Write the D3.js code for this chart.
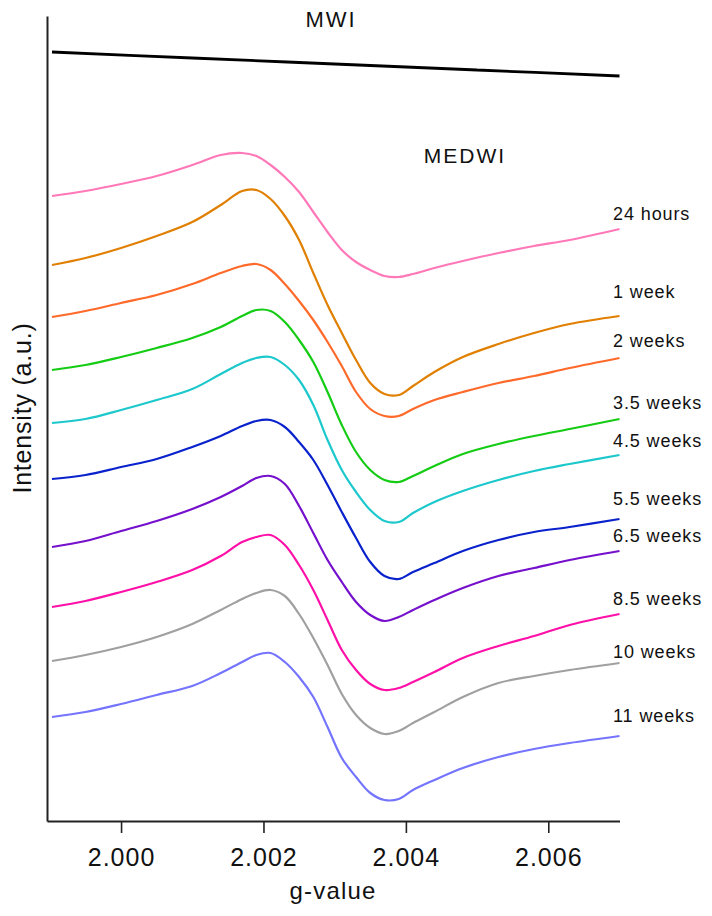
<!DOCTYPE html>
<html>
<head>
<meta charset="utf-8">
<script src="https://cdn.jsdelivr.net/npm/d3@7"></script>
<style>
  html, body { margin: 0; padding: 0; background: #fff; }
  svg { display: block; }
  text { font-family: "Liberation Sans", Arial, Helvetica, sans-serif; fill: #111; }
</style>
</head>
<body>
<svg id="chart" width="712" height="916"></svg>
<script>
// ---- data (intensity in arbitrary units) ----
const gValues = [1.99903, 1.9995, 2.0000, 2.0005, 2.0010, 2.0014, 2.0017, 2.0019, 2.0021, 2.0023, 2.0025, 2.0027, 2.0029,
                 2.0031, 2.0033, 2.0035, 2.0037, 2.0039, 2.0041, 2.0044, 2.0048, 2.0053, 2.0058, 2.0063, 2.0070];

const seriesNames = ["24 hours", "1 week", "2 weeks", "3.5 weeks", "4.5 weeks", "5.5 weeks",
                     "6.5 weeks", "8.5 weeks", "10 weeks", "11 weeks"];

const s24h   = [625,630,637,645,656,666,668,665,656,644,629,609,589,571,559,551,545,544,547,553,560,568,575,581,592];
const s1w    = [556,563,573,585,599,616,630,631,622,605,581,548,516,488,461,438,427,426,435,449,464,477,488,497,505];
const s2w    = [504,510,518,526,537,548,555,557,551,537,520,501,479,455,429,412,405,405,412,421,429,438,445,453,463];
const s3_5w  = [451,456,464,473,483,494,505,511,510,499,481,459,429,396,369,351,341,339,345,355,367,377,385,392,402];
const s4_5w  = [398,402,411,421,432,447,458,463,464,456,441,416,381,351,329,311,300,299,308,319,330,341,350,357,366];
const s5_5w  = [342,346,354,362,374,385,395,400,401,394,379,361,336,309,283,259,245,242,249,258,270,281,289,294,302];
const s6_5w  = [274,280,290,300,312,324,335,343,345,337,315,288,261,239,219,206,200,204,211,221,233,245,253,261,270];
const s8_5w  = [214,220,229,239,251,265,279,284,286,276,256,231,201,171,151,137,131,133,139,149,163,175,185,196,207];
const s10w   = [160,166,174,184,197,211,222,228,231,225,207,183,156,127,106, 93, 87, 90, 98,109,124,138,145,151,158];
const s11w   = [104,109,117,126,135,148,159,166,168,159,144,124, 94, 63, 44, 28, 21, 22, 31, 41, 53, 64, 72, 78, 85];

const mwiG = [1.99903, 2.0010, 2.0030, 2.0050, 2.0070];
const mwiValues = [769, 763, 757, 751, 745];

// label anchor intensity (where each series label sits)
const labelLevels = [601, 523, 474, 412, 374, 316, 279, 216, 163, 99];

const seriesColors = ["#ff78b8", "#e07f00", "#ff6a2a", "#13cc13", "#1cc8cc", "#0a22cc",
                      "#7510cc", "#ff10a8", "#a0a0a0", "#7474ff"];

const xTicks = [2.000, 2.002, 2.004, 2.006];

// ---- layout ----
const svg = d3.select("#chart");
const x = d3.scaleLinear().domain([1.99896, 2.00700]).range([47, 619.5]);
const y = d3.scaleLinear().domain([0, 805]).range([821, 16]);

const allSeries = [s24h, s1w, s2w, s3_5w, s4_5w, s5_5w, s6_5w, s8_5w, s10w, s11w];

const line = d3.line()
  .x(d => x(d[0]))
  .y(d => y(d[1]))
  .curve(d3.curveCatmullRom.alpha(0.5));

// axes
const xAxis = d3.axisBottom(x).tickValues(xTicks).tickFormat(d3.format(".3f"))
  .tickSize(12).tickSizeOuter(0).tickPadding(15);
const gx = svg.append("g").attr("transform", "translate(0,821)").call(xAxis);
gx.select(".domain").attr("stroke", "#222").attr("stroke-width", 2);
gx.selectAll(".tick line").attr("stroke", "#222").attr("stroke-width", 1.6);
gx.selectAll(".tick text").style("font-size", "25px").style("letter-spacing", "1px")
  .attr("fill", "#111").style("font-family", '"Liberation Sans", Arial, sans-serif');

const yAxis = d3.axisLeft(y).tickValues([]).tickSizeOuter(0);
const gy = svg.append("g").attr("transform", "translate(47,0)").call(yAxis);
gy.select(".domain").attr("stroke", "#222").attr("stroke-width", 2);

// axis titles
svg.append("text").attr("x", 333).attr("y", 899).attr("text-anchor", "middle")
  .style("font-size", "24px").style("letter-spacing", "1.2px").text("g-value");
svg.append("text").attr("transform", "translate(31,408) rotate(-90)").attr("text-anchor", "middle")
  .style("font-size", "25px").style("letter-spacing", "0.8px").text("Intensity (a.u.)");

// MWI line
svg.append("path")
  .datum(mwiG.map((g, i) => [g, mwiValues[i]]))
  .attr("d", line).attr("fill", "none").attr("stroke", "#000").attr("stroke-width", 2.8);
svg.append("text").attr("x", 331).attr("y", 27).attr("text-anchor", "middle")
  .style("font-size", "22px").style("letter-spacing", "2px").text("MWI");
svg.append("text").attr("x", 465).attr("y", 163).attr("text-anchor", "middle")
  .style("font-size", "21px").style("letter-spacing", "2px").text("MEDWI");

// spectra
allSeries.forEach((vals, i) => {
  svg.append("path")
    .datum(gValues.map((g, j) => [g, vals[j]]))
    .attr("d", line)
    .attr("fill", "none")
    .attr("stroke", seriesColors[i])
    .attr("stroke-width", 2.2)
    .attr("stroke-linejoin", "round");
});

// series labels
seriesNames.forEach((name, i) => {
  svg.append("text")
    .attr("x", 613)
    .attr("y", y(labelLevels[i]))
    .style("font-size", "18px")
    .style("letter-spacing", "0.9px")
    .text(name);
});
</script>
</body>
</html>
